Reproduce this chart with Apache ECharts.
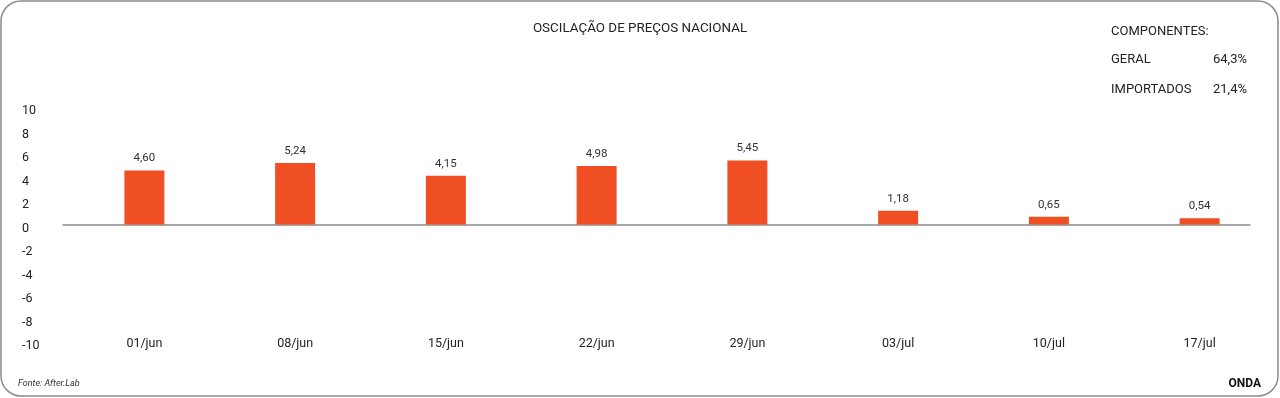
<!DOCTYPE html>
<html><head><meta charset="utf-8">
<script src="https://cdn.jsdelivr.net/npm/echarts@6/dist/echarts.min.js"></script>
<style>html,body{margin:0;padding:0;background:#fff}#c{width:1280px;height:398px}</style>
</head><body><div id="c"></div>
<script>
const categories = ['01/jun','08/jun','15/jun','22/jun','29/jun','03/jul','10/jul','17/jul'];
const values = [4.60, 5.24, 4.15, 4.98, 5.45, 1.18, 0.65, 0.54];
const yTicks = [-10,-8,-6,-4,-2,0,2,4,6,8,10];
const components = [['GERAL','64,3%'],['IMPORTADOS','21,4%']];

const FONT = 'Roboto, "Noto Sans", sans-serif';
const chart = echarts.init(document.getElementById('c'), null, {renderer:'canvas'});
const ts = (extra)=>Object.assign({fontFamily:FONT,fontSize:13,fontWeight:'normal',color:'#222'}, extra||{});
const titles = [
  {text:'OSCILAÇÃO DE PREÇOS NACIONAL', left:'center', top:22, padding:0, textStyle:ts({fontSize:13.4})},
  {text:'COMPONENTES:', left:1111, top:25, padding:0, textStyle:ts()},
  {text:'Fonte: After.Lab', left:18, top:379, padding:0, textStyle:ts({fontSize:9,fontStyle:'italic',color:'#333'})},
  {text:'ONDA', right:19, top:378, padding:0, textStyle:ts({fontSize:12,fontWeight:'bold',color:'#111'})}
];
components.forEach((c,i)=>{
  titles.push({text:c[0], left:1111, top:53+i*30, padding:0, textStyle:ts()});
  titles.push({text:c[1], right:33, top:53+i*30, padding:0, textStyle:ts()});
});
chart.setOption({
  animation:false,
  title:titles,
  graphic:[{type:'rect',shape:{x:1,y:1,width:1277,height:395,r:20},style:{fill:'none',stroke:'#8c8c8c',lineWidth:1.5},silent:true}],
  grid:[
    {left:69, right:5, top:107, bottom:56},
    {left:63, right:30, top:107, bottom:56}
  ],
  xAxis:[
    {type:'category', gridIndex:0, data:categories, position:'bottom',
     axisLine:{show:false,onZero:false}, axisTick:{show:false},
     axisLabel:{margin:2, verticalAlign:'middle', fontFamily:FONT, fontSize:12.5, color:'#222'}},
    {type:'value', gridIndex:1, min:0, max:1, show:true,
     axisLine:{show:true,onZero:true,lineStyle:{color:'#8a8a8a',width:1.5}},
     axisTick:{show:false}, axisLabel:{show:false}, splitLine:{show:false}}
  ],
  yAxis:[
    {type:'value', gridIndex:0, min:yTicks[0], max:yTicks[yTicks.length-1], interval:2,
     axisLine:{show:false}, axisTick:{show:false}, splitLine:{show:false},
     axisLabel:{align:'left', margin:47, verticalAlign:'top', lineHeight:8, fontFamily:FONT, fontSize:12.5, color:'#222'}},
    {type:'value', gridIndex:1, min:yTicks[0], max:yTicks[yTicks.length-1], show:false}
  ],
  series:[{
    type:'bar', xAxisIndex:0, yAxisIndex:0, data:values, barWidth:40,
    itemStyle:{color:'#F04E23'},
    label:{show:true, position:'top', distance:6, fontFamily:FONT, fontSize:11.5, color:'#333',
      formatter:p=>p.value.toFixed(2).replace('.',',')}
  }]
});
</script></body></html>
